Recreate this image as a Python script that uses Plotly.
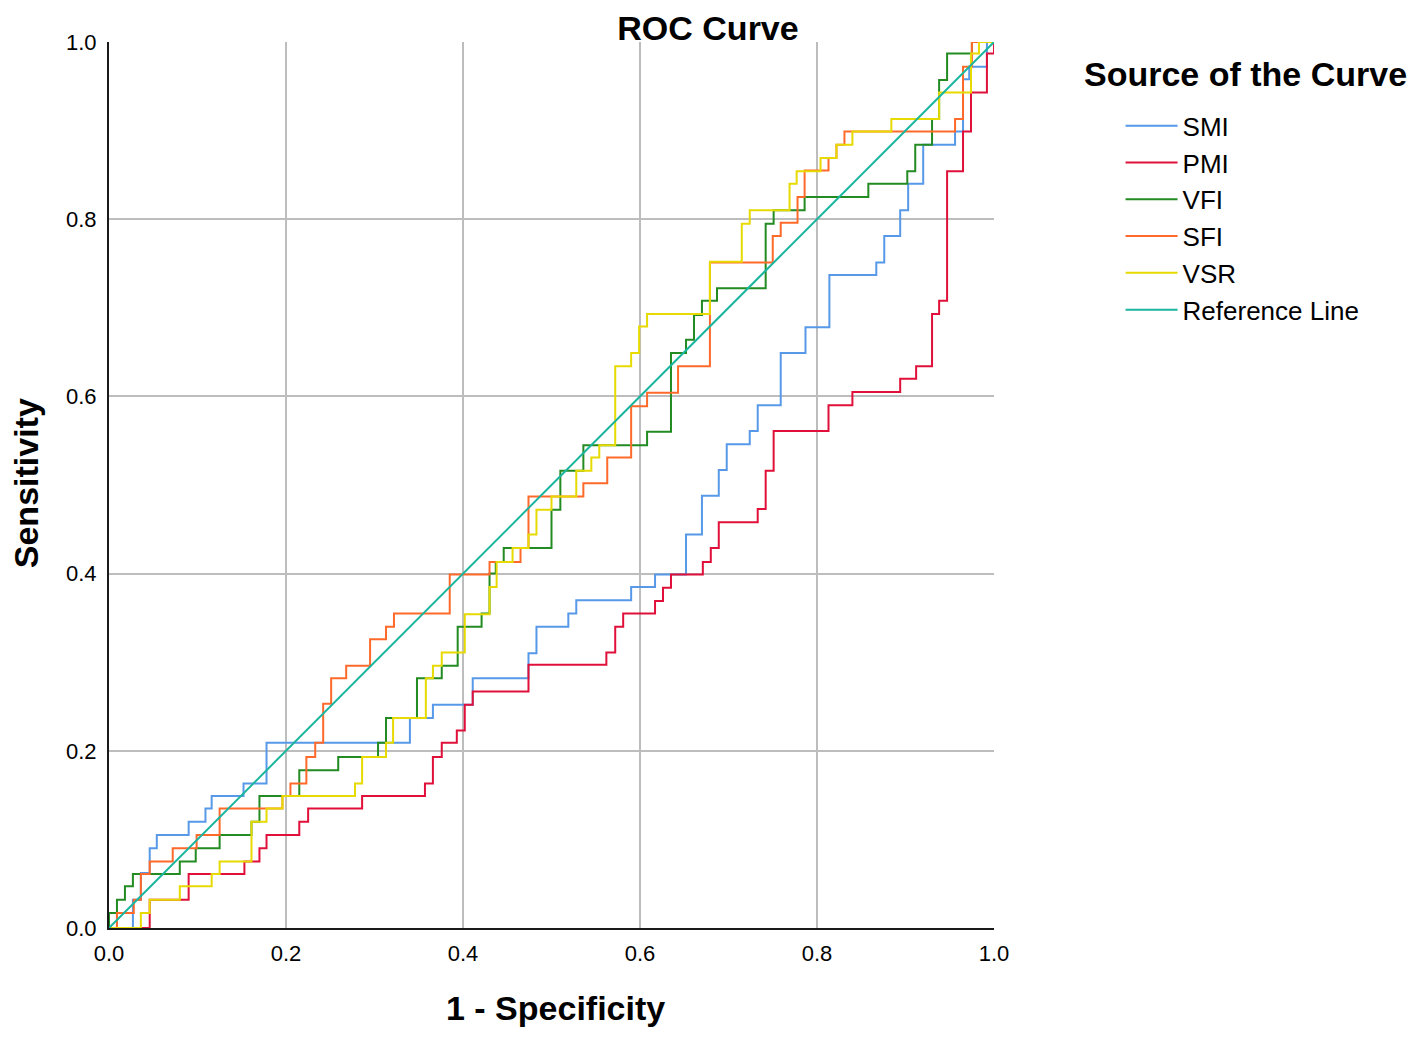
import plotly.graph_objects as go

# ROC step points (1 - specificity, sensitivity)
smi_fpr = [0.0, 0.027, 0.036, 0.046, 0.054, 0.090, 0.109, 0.116, 0.152, 0.178,
           0.340, 0.366, 0.411, 0.474, 0.483, 0.519, 0.528, 0.590, 0.617, 0.652,
           0.670, 0.689, 0.698, 0.724, 0.733, 0.759, 0.787, 0.814, 0.867, 0.876,
           0.894, 0.903, 0.920, 0.956, 0.965, 0.972, 0.992, 1.0]
smi_tpr = [0.0, 0.032, 0.062, 0.090, 0.105, 0.120, 0.135, 0.149, 0.163, 0.209,
           0.237, 0.252, 0.282, 0.310, 0.340, 0.355, 0.370, 0.385, 0.399, 0.444,
           0.488, 0.517, 0.546, 0.561, 0.590, 0.649, 0.678, 0.737, 0.751, 0.781,
           0.810, 0.840, 0.884, 0.899, 0.958, 0.972, 1.0, 1.0]

pmi_fpr = [0.0, 0.046, 0.090, 0.153, 0.170, 0.178, 0.215, 0.225, 0.286, 0.357,
           0.366, 0.376, 0.393, 0.402, 0.411, 0.474, 0.562, 0.572, 0.581, 0.617,
           0.626, 0.635, 0.671, 0.680, 0.689, 0.733, 0.742, 0.751, 0.813, 0.840,
           0.894, 0.912, 0.930, 0.938, 0.947, 0.965, 0.974, 0.992, 1.0]
pmi_tpr = [0.0, 0.032, 0.061, 0.075, 0.090, 0.105, 0.120, 0.135, 0.149, 0.163,
           0.193, 0.209, 0.223, 0.252, 0.267, 0.297, 0.311, 0.340, 0.355, 0.369,
           0.384, 0.399, 0.413, 0.429, 0.458, 0.473, 0.516, 0.561, 0.590, 0.605,
           0.620, 0.634, 0.693, 0.708, 0.854, 0.899, 0.943, 0.987, 1.0]

vfi_fpr = [0.0, 0.0, 0.009, 0.018, 0.027, 0.080, 0.098, 0.125, 0.161, 0.170,
           0.215, 0.259, 0.304, 0.313, 0.348, 0.376, 0.394, 0.421, 0.430, 0.437,
           0.446, 0.500, 0.510, 0.536, 0.608, 0.635, 0.652, 0.661, 0.670, 0.687,
           0.742, 0.751, 0.786, 0.858, 0.902, 0.911, 0.930, 0.938, 0.947, 0.975, 1.0]
vfi_tpr = [0.0, 0.017, 0.032, 0.047, 0.061, 0.075, 0.090, 0.105, 0.120, 0.149,
           0.178, 0.193, 0.209, 0.237, 0.282, 0.296, 0.340, 0.355, 0.400, 0.413,
           0.429, 0.472, 0.516, 0.545, 0.560, 0.649, 0.664, 0.692, 0.708, 0.722,
           0.795, 0.810, 0.825, 0.840, 0.854, 0.884, 0.913, 0.957, 0.987, 1.0, 1.0]

sfi_fpr = [0.0, 0.009, 0.028, 0.036, 0.046, 0.072, 0.099, 0.125, 0.196, 0.205,
           0.223, 0.233, 0.242, 0.251, 0.268, 0.295, 0.313, 0.322, 0.385, 0.430,
           0.465, 0.474, 0.536, 0.563, 0.590, 0.608, 0.643, 0.679, 0.750, 0.759,
           0.778, 0.786, 0.813, 0.822, 0.831, 0.956, 0.965, 0.975, 1.0]
sfi_tpr = [0.0, 0.017, 0.032, 0.061, 0.075, 0.090, 0.105, 0.135, 0.149, 0.163,
           0.193, 0.209, 0.253, 0.282, 0.296, 0.326, 0.340, 0.355, 0.399, 0.413,
           0.429, 0.487, 0.502, 0.531, 0.589, 0.604, 0.634, 0.751, 0.781, 0.796,
           0.825, 0.855, 0.869, 0.884, 0.899, 0.913, 0.972, 1.0, 1.0]

vsr_fpr = [0.0, 0.036, 0.046, 0.080, 0.116, 0.125, 0.161, 0.178, 0.196, 0.278,
           0.286, 0.313, 0.321, 0.358, 0.366, 0.376, 0.402, 0.430, 0.438, 0.456,
           0.474, 0.483, 0.500, 0.528, 0.545, 0.554, 0.572, 0.590, 0.599, 0.608,
           0.679, 0.715, 0.724, 0.769, 0.777, 0.804, 0.822, 0.840, 0.884, 0.938,
           0.974, 0.983, 1.0]
vsr_tpr = [0.0, 0.017, 0.032, 0.047, 0.061, 0.075, 0.120, 0.135, 0.149, 0.163,
           0.193, 0.209, 0.237, 0.282, 0.296, 0.311, 0.354, 0.385, 0.413, 0.429,
           0.444, 0.472, 0.487, 0.516, 0.531, 0.545, 0.634, 0.649, 0.679, 0.693,
           0.752, 0.795, 0.810, 0.840, 0.854, 0.869, 0.884, 0.899, 0.913, 0.943,
           0.987, 1.0, 1.0]

ref_x = [0.0, 1.0]
ref_y = [0.0, 1.0]

curves = [
    ("SMI", smi_fpr, smi_tpr, "#5799E8"),
    ("PMI", pmi_fpr, pmi_tpr, "#E0103A"),
    ("VFI", vfi_fpr, vfi_tpr, "#228B22"),
    ("SFI", sfi_fpr, sfi_tpr, "#FF6A2B"),
    ("VSR", vsr_fpr, vsr_tpr, "#E6DA00"),
]

tick_vals = [0.0, 0.2, 0.4, 0.6, 0.8, 1.0]
tick_text = ["0.0", "0.2", "0.4", "0.6", "0.8", "1.0"]

FONT = "Liberation Sans, Arial"

fig = go.Figure()

for name, xs, ys, col in curves:
    fig.add_trace(go.Scatter(x=xs, y=ys, mode="lines", name=name,
                             line=dict(color=col, width=2, shape="hv")))

fig.add_trace(go.Scatter(x=ref_x, y=ref_y, mode="lines", name="Reference Line",
                         line=dict(color="#1AB59E", width=2)))

axis_common = dict(
    range=[0, 1],
    tickvals=tick_vals,
    ticktext=tick_text,
    showgrid=True,
    gridcolor="#BDBDBD",
    gridwidth=2,
    zeroline=False,
    showline=True,
    linecolor="#1a1a1a",
    linewidth=2,
    ticks="",
    automargin=False,
    tickfont=dict(family=FONT, size=22, color="black"),
)

# axis titles + legend heading placed as paper annotations
labels = [
    dict(text="<b>1 - Specificity</b>", x=0.504, y=-0.0903,
         xanchor="center", yanchor="middle", textangle=0),
    dict(text="<b>Sensitivity</b>", x=-0.0938, y=0.502,
         xanchor="center", yanchor="middle", textangle=-90),
    dict(text="<b>Source of the Curve</b>", x=1.0994, y=0.964,
         xanchor="left", yanchor="middle", textangle=0),
]
annotations = [dict(a, xref="paper", yref="paper", showarrow=False,
                    font=dict(size=34, family=FONT, color="black"))
               for a in labels]

# page body has an 8px margin, so the figure is sized/offset to fit the window
fig.update_layout(
    width=1400,
    height=1022,
    margin=dict(l=101, r=414, t=34, b=102, autoexpand=False),
    paper_bgcolor="white",
    plot_bgcolor="white",
    font=dict(family=FONT, color="black"),
    title=dict(text="<b>ROC Curve</b>", x=0.5, xref="container", xanchor="center",
               y=0.992, yref="container", yanchor="top",
               font=dict(size=34, family=FONT)),
    xaxis=axis_common,
    yaxis=axis_common,
    showlegend=True,
    legend=dict(
        x=1.143, y=0.932, xanchor="left", yanchor="top",
        font=dict(size=26, family=FONT),
        bgcolor="rgba(0,0,0,0)",
        itemwidth=52,
        tracegroupgap=0,
    ),
    annotations=annotations,
)

fig.update_xaxes(ticklabelstandoff=5)
fig.update_yaxes(ticklabelstandoff=6)

fig.write_html("out.html")
